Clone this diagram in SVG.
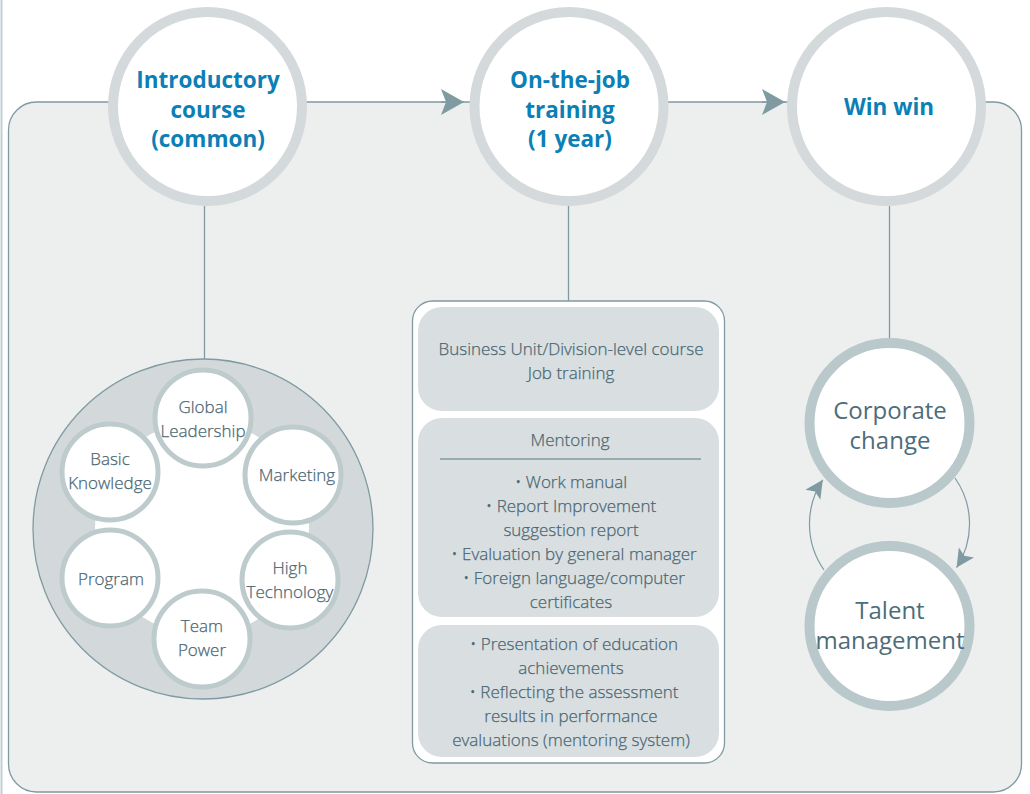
<svg xmlns="http://www.w3.org/2000/svg" width="1030" height="794" viewBox="0 0 1030 794">
<defs>
<style>
.panel{fill:#edefef;stroke:#7f9ba1;stroke-width:1.3}
.big{fill:#fff;stroke:#d4d9db;stroke-width:10}
.head{font-family:"Open Sans","Noto Sans",sans-serif;font-weight:700;font-size:22.5px;fill:#0b7fb6;text-anchor:middle}
.body{font-family:"Open Sans","Noto Sans",sans-serif;font-weight:300;font-size:17px;fill:#4a6773;text-anchor:middle;stroke:#4a6773;stroke-width:0.25}
.ring{fill:#d3d9db;stroke:#7f9ba1;stroke-width:1.3}
.small{fill:#fff;stroke:#bdcbcc;stroke-width:5}
.box{fill:#d9dfe1}
.line{stroke:#7f9ba1;stroke-width:1.3;fill:none}
.arc{stroke:#7f9ba1;stroke-width:1.2;fill:none}
.cyc{fill:#fff;stroke:#b9c8ca;stroke-width:10}
.cyct{font-family:"Open Sans","Noto Sans",sans-serif;font-size:24px;fill:#4d6d7a;text-anchor:middle}
</style>
<marker id="ah" viewBox="-24 -14 26 28" markerWidth="26" markerHeight="28" refX="0" refY="0" orient="auto" markerUnits="userSpaceOnUse">
<path d="M0,0 L-23,-13 L-18,0 L-23,13 Z" fill="#7f9ba1"/>
</marker>
<marker id="ahs" viewBox="-20 -12 22 24" markerWidth="22" markerHeight="24" refX="0" refY="0" orient="auto" markerUnits="userSpaceOnUse">
<path d="M0,0 L-18,-9 L-14,0 L-18,9 Z" fill="#7f9ba1"/>
</marker>
</defs>
<rect width="1030" height="794" fill="#fff"/>
<line x1="1.5" y1="0" x2="1.5" y2="794" stroke="#bfcfd6" stroke-width="2"/>
<rect id="panel" class="panel" x="8.5" y="102" width="1013" height="690" rx="28"/>

<g id="connectors">
<line class="line" x1="441" y1="102" x2="464" y2="102" marker-end="url(#ah)"/>
<line class="line" x1="762" y1="102" x2="785" y2="102" marker-end="url(#ah)"/>
<line class="line" x1="204.5" y1="206" x2="204.5" y2="360"/>
<line class="line" x1="568.5" y1="206" x2="568.5" y2="301"/>
<line class="line" x1="889.5" y1="206" x2="889.5" y2="338"/>
<path class="arc" d="M955,478 A80,80 0 0 1 956.6,567.6" marker-end="url(#ahs)"/>
<path class="arc" d="M824,570 A80,80 0 0 1 822.8,479.8" marker-end="url(#ahs)"/>
</g>

<g id="intro">
<circle class="big" cx="207.5" cy="106.5" r="94.5"/>
<text class="head" x="208" y="88">Introductory</text>
<text class="head" x="208" y="118">course</text>
<text class="head" x="208" y="147">(common)</text>
</g>
<g id="ojt">
<circle class="big" cx="569" cy="106.5" r="94.5"/>
<text class="head" x="570" y="88">On-the-job</text>
<text class="head" x="570" y="118">training</text>
<text class="head" x="570" y="147">(1 year)</text>
</g>
<g id="winwin">
<circle class="big" cx="886.5" cy="106.5" r="94.5"/>
<text class="head" x="889" y="115">Win win</text>
</g>

<g id="common-ring">
<circle class="ring" cx="203" cy="529" r="170"/>
<circle cx="202" cy="528" r="107" fill="#fff"/>
</g>
<g id="global-leadership">
<circle class="small" cx="203" cy="418" r="48"/>
<text class="body" x="203" y="413">Global</text>
<text class="body" x="203" y="437">Leadership</text>
</g>
<g id="marketing">
<circle class="small" cx="293" cy="475" r="48"/>
<text class="body" x="297" y="481">Marketing</text>
</g>
<g id="high-technology">
<circle class="small" cx="290" cy="580" r="48"/>
<text class="body" x="290" y="574">High</text>
<text class="body" x="290" y="598">Technology</text>
</g>
<g id="team-power">
<circle class="small" cx="202" cy="639" r="48"/>
<text class="body" x="202" y="632">Team</text>
<text class="body" x="202" y="656">Power</text>
</g>
<g id="program">
<circle class="small" cx="110" cy="578" r="48"/>
<text class="body" x="111" y="585">Program</text>
</g>
<g id="basic-knowledge">
<circle class="small" cx="110" cy="472" r="48"/>
<text class="body" x="110" y="465">Basic</text>
<text class="body" x="110" y="489">Knowledge</text>
</g>

<g id="ojt-box">
<rect x="412.5" y="301" width="312" height="462" rx="20" fill="#fff" stroke="#7f9ba1" stroke-width="1.3"/>
</g>
<g id="bu-course">
<rect class="box" x="418" y="307" width="301" height="104" rx="24"/>
<text class="body" x="571" y="355">Business Unit/Division-level course</text>
<text class="body" x="571" y="379">Job training</text>
</g>
<g id="mentoring">
<rect class="box" x="418" y="418" width="301" height="199" rx="24"/>
<text class="body" x="570" y="446">Mentoring</text>
<line x1="440" y1="459" x2="701" y2="459" stroke="#7f9ba1" stroke-width="1.3"/>
<text class="body" x="571" y="488">• Work manual</text>
<text class="body" x="571" y="512">• Report Improvement</text>
<text class="body" x="571" y="536">suggestion report</text>
<text class="body" x="574" y="560">• Evaluation by general manager</text>
<text class="body" x="574" y="584">• Foreign language/computer</text>
<text class="body" x="571" y="608">certificates</text>
</g>
<g id="evaluation">
<rect class="box" x="418" y="625" width="301" height="132" rx="24"/>
<text class="body" x="574" y="650">• Presentation of education</text>
<text class="body" x="571" y="674">achievements</text>
<text class="body" x="574" y="698">• Reflecting the assessment</text>
<text class="body" x="571" y="722">results in performance</text>
<text class="body" x="571" y="746">evaluations (mentoring system)</text>
</g>

<g id="corporate-change">
<circle class="cyc" cx="889.5" cy="423" r="80"/>
<text class="cyct" x="890" y="419">Corporate</text>
<text class="cyct" x="890" y="449">change</text>
</g>
<g id="talent-management">
<circle class="cyc" cx="889.5" cy="626" r="80"/>
<text class="cyct" x="890" y="619">Talent</text>
<text class="cyct" x="890" y="649">management</text>
</g>
</svg>
